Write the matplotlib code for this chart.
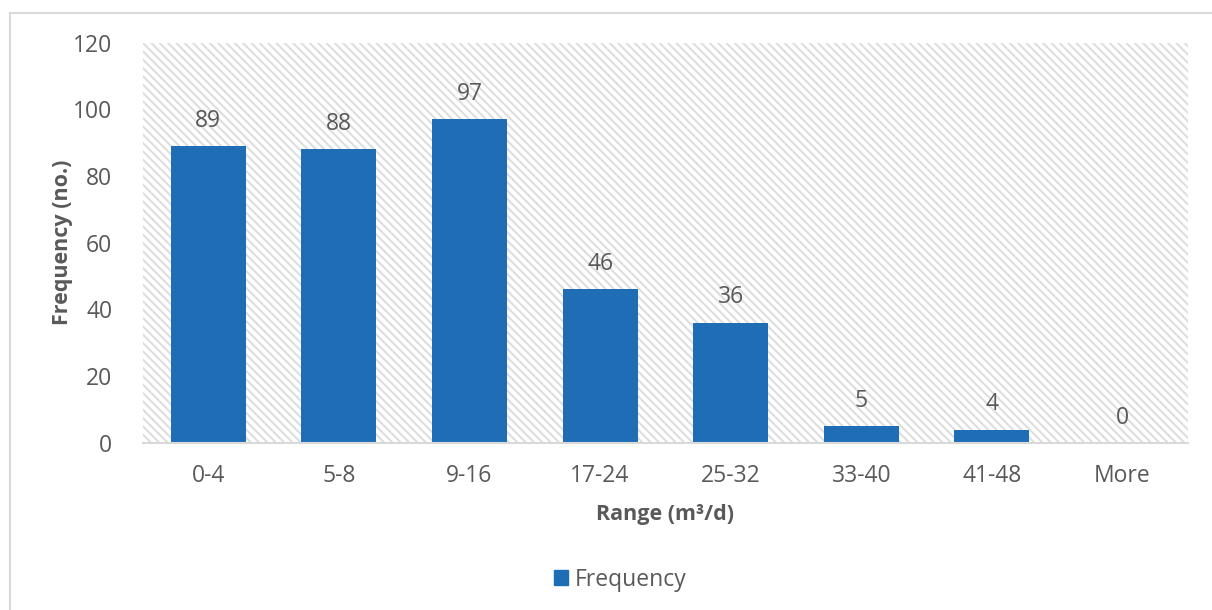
import matplotlib.pyplot as plt
from matplotlib.patches import Rectangle
from matplotlib.lines import Line2D

ranges = ["0-4", "5-8", "9-16", "17-24", "25-32", "33-40", "41-48", "More"]
frequency = [89, 88, 97, 46, 36, 5, 4, 0]
y_ticks = [0, 20, 40, 60, 80, 100, 120]

bar_color = "#1f6db5"
text_color = "#595959"
fs = 16.5

plt.rcParams["font.family"] = ["Open Sans", "DejaVu Sans"]
plt.rcParams["hatch.linewidth"] = 1.5

fig = plt.figure(figsize=(12.12, 6.10), dpi=100, facecolor="w")
ax = fig.add_axes([0.118, 0.274, 0.862, 0.656])

# hatched plot area background
ax.patch.set_visible(False)
ax.add_patch(Rectangle((0, 0), 1, 1, transform=ax.transAxes, facecolor="w",
                       edgecolor="#dedede", linewidth=0, hatch="\\\\\\\\",
                       zorder=0))

x = range(len(ranges))
ax.bar(x, frequency, width=0.575, color=bar_color, zorder=2)
for xi, v in zip(x, frequency):
    ax.text(xi, v + 4, str(v), ha="center", va="bottom", fontsize=fs,
            color=text_color)

ax.set_xlim(-0.5, len(ranges) - 0.5)
ax.set_ylim(0, 120)
ax.set_yticks(y_ticks)
ax.set_xticks(list(x))
ax.set_xticklabels(ranges)
ax.tick_params(length=0, labelsize=fs, labelcolor=text_color)
ax.tick_params(axis="x", pad=15)
ax.tick_params(axis="y", pad=22)
for side in ["top", "right", "left"]:
    ax.spines[side].set_visible(False)
ax.spines["bottom"].set_color("#d9d9d9")
ax.spines["bottom"].set_linewidth(1.5)

ax.set_xlabel("Range (m³/d)", fontsize=15.5, fontweight="bold",
              color=text_color, labelpad=12)
ax.set_ylabel("Frequency (no.)", fontsize=15.5, fontweight="bold",
              color=text_color)
ax.yaxis.set_label_coords(-0.067, 0.5)

# legend
handle = Rectangle((0, 0), 1, 1, color=bar_color)
fig.legend([handle], ["Frequency"], loc="center", bbox_to_anchor=(0.512, 0.05),
           frameon=False, fontsize=fs, handlelength=0.6, handleheight=0.6,
           handletextpad=0.3, labelcolor=text_color)

# chart frame
fig.add_artist(Line2D([10 / 1212, 1], [1 - 13 / 610, 1 - 13 / 610],
                      transform=fig.transFigure, color="#d9d9d9", lw=1.5))
fig.add_artist(Line2D([10 / 1212, 10 / 1212], [0, 1 - 13 / 610],
                      transform=fig.transFigure, color="#d9d9d9", lw=1.5))

fig.savefig("out.png", dpi=100)
